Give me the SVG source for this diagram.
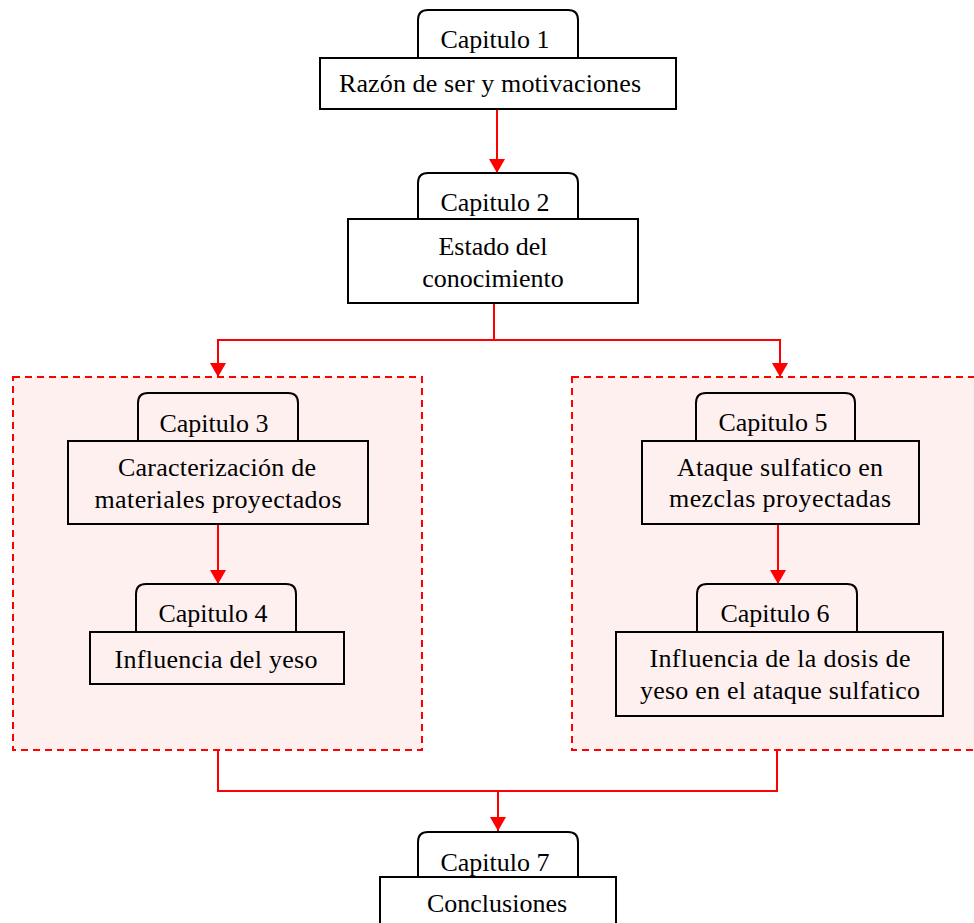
<svg xmlns="http://www.w3.org/2000/svg" width="974" height="923" viewBox="0 0 974 923">
<style>
.tab{fill:none;stroke:#000;stroke-width:2}
.box{fill:none;stroke:#000;stroke-width:2}
.grp{fill:#fff0f0;stroke:#ff0000;stroke-width:2;stroke-dasharray:7,5}
.t{font-family:"Liberation Serif","Times New Roman",serif;font-size:26px;fill:#000;text-anchor:middle}
.c{fill:none;stroke:#ff0000;stroke-width:2}
</style>
<defs>
<marker id="ah" markerWidth="14" markerHeight="16" refX="14" refY="8" orient="auto" markerUnits="userSpaceOnUse">
<path d="M0,0 L14,8 L0,16 Z" fill="#ff0000"/>
</marker>
</defs>
<rect width="974" height="923" fill="#fff"/>
<g id="group-left"><rect class="grp" x="13" y="377" width="409" height="373"/></g>
<g id="group-right"><rect class="grp" x="572" y="377" width="410" height="373"/></g>

<g id="connectors">
<path class="c" d="M497,109 V173" marker-end="url(#ah)"/>
<path class="c" d="M494,303 V340 H218 V377" marker-end="url(#ah)"/>
<path class="c" d="M494,340 H780 V377" marker-end="url(#ah)"/>
<path class="c" d="M218,524 V584" marker-end="url(#ah)"/>
<path class="c" d="M778,524 V584" marker-end="url(#ah)"/>
<path class="c" d="M218,750 V791 H777 V750"/>
<path class="c" d="M498,791 V831" marker-end="url(#ah)"/>
</g>

<g id="node1">
<path class="tab" d="M418,58 V20 Q418,10 428,10 H568 Q578,10 578,20 V58"/>
<text class="t" x="495" y="48">Capitulo 1</text>
<rect class="box" x="320" y="58" width="356" height="51"/>
<text class="t" x="490" y="92" textLength="302">Razón de ser y motivaciones</text>
</g>

<g id="node2">
<path class="tab" d="M418,219 V183 Q418,173 428,173 H568 Q578,173 578,183 V219"/>
<text class="t" x="495" y="211">Capitulo 2</text>
<rect class="box" x="348" y="219" width="290" height="84"/>
<text class="t" x="493" y="255">Estado del</text>
<text class="t" x="493" y="287">conocimiento</text>
</g>

<g id="node3">
<path class="tab" d="M138,441 V403 Q138,393 148,393 H288 Q298,393 298,403 V441"/>
<text class="t" x="214" y="432">Capitulo 3</text>
<rect class="box" x="68" y="441" width="300" height="83"/>
<text class="t" x="217" y="476" textLength="198">Caracterización de</text>
<text class="t" x="218" y="508" textLength="247">materiales proyectados</text>
</g>

<g id="node4">
<path class="tab" d="M136,632 V594 Q136,584 146,584 H286 Q296,584 296,594 V632"/>
<text class="t" x="213" y="622">Capitulo 4</text>
<rect class="box" x="90" y="632" width="254" height="52"/>
<text class="t" x="216" y="668" textLength="203">Influencia del yeso</text>
</g>

<g id="node5">
<path class="tab" d="M696,441 V403 Q696,393 706,393 H845 Q855,393 855,403 V441"/>
<text class="t" x="773" y="431">Capitulo 5</text>
<rect class="box" x="642" y="441" width="277" height="83"/>
<text class="t" x="780" y="476" textLength="206">Ataque sulfatico en</text>
<text class="t" x="780" y="507" textLength="222">mezclas proyectadas</text>
</g>

<g id="node6">
<path class="tab" d="M697,632 V594 Q697,584 707,584 H847 Q857,584 857,594 V632"/>
<text class="t" x="775" y="622">Capitulo 6</text>
<rect class="box" x="616" y="632" width="327" height="84"/>
<text class="t" x="780" y="667" textLength="261">Influencia de la dosis de</text>
<text class="t" x="780" y="699" textLength="280">yeso en el ataque sulfatico</text>
</g>

<g id="node7">
<path class="tab" d="M418,877 V842 Q418,832 428,832 H568 Q578,832 578,842 V877"/>
<text class="t" x="495" y="871">Capitulo 7</text>
<rect class="box" x="380" y="877" width="236" height="60"/>
<text class="t" x="497" y="912">Conclusiones</text>
</g>
</svg>
